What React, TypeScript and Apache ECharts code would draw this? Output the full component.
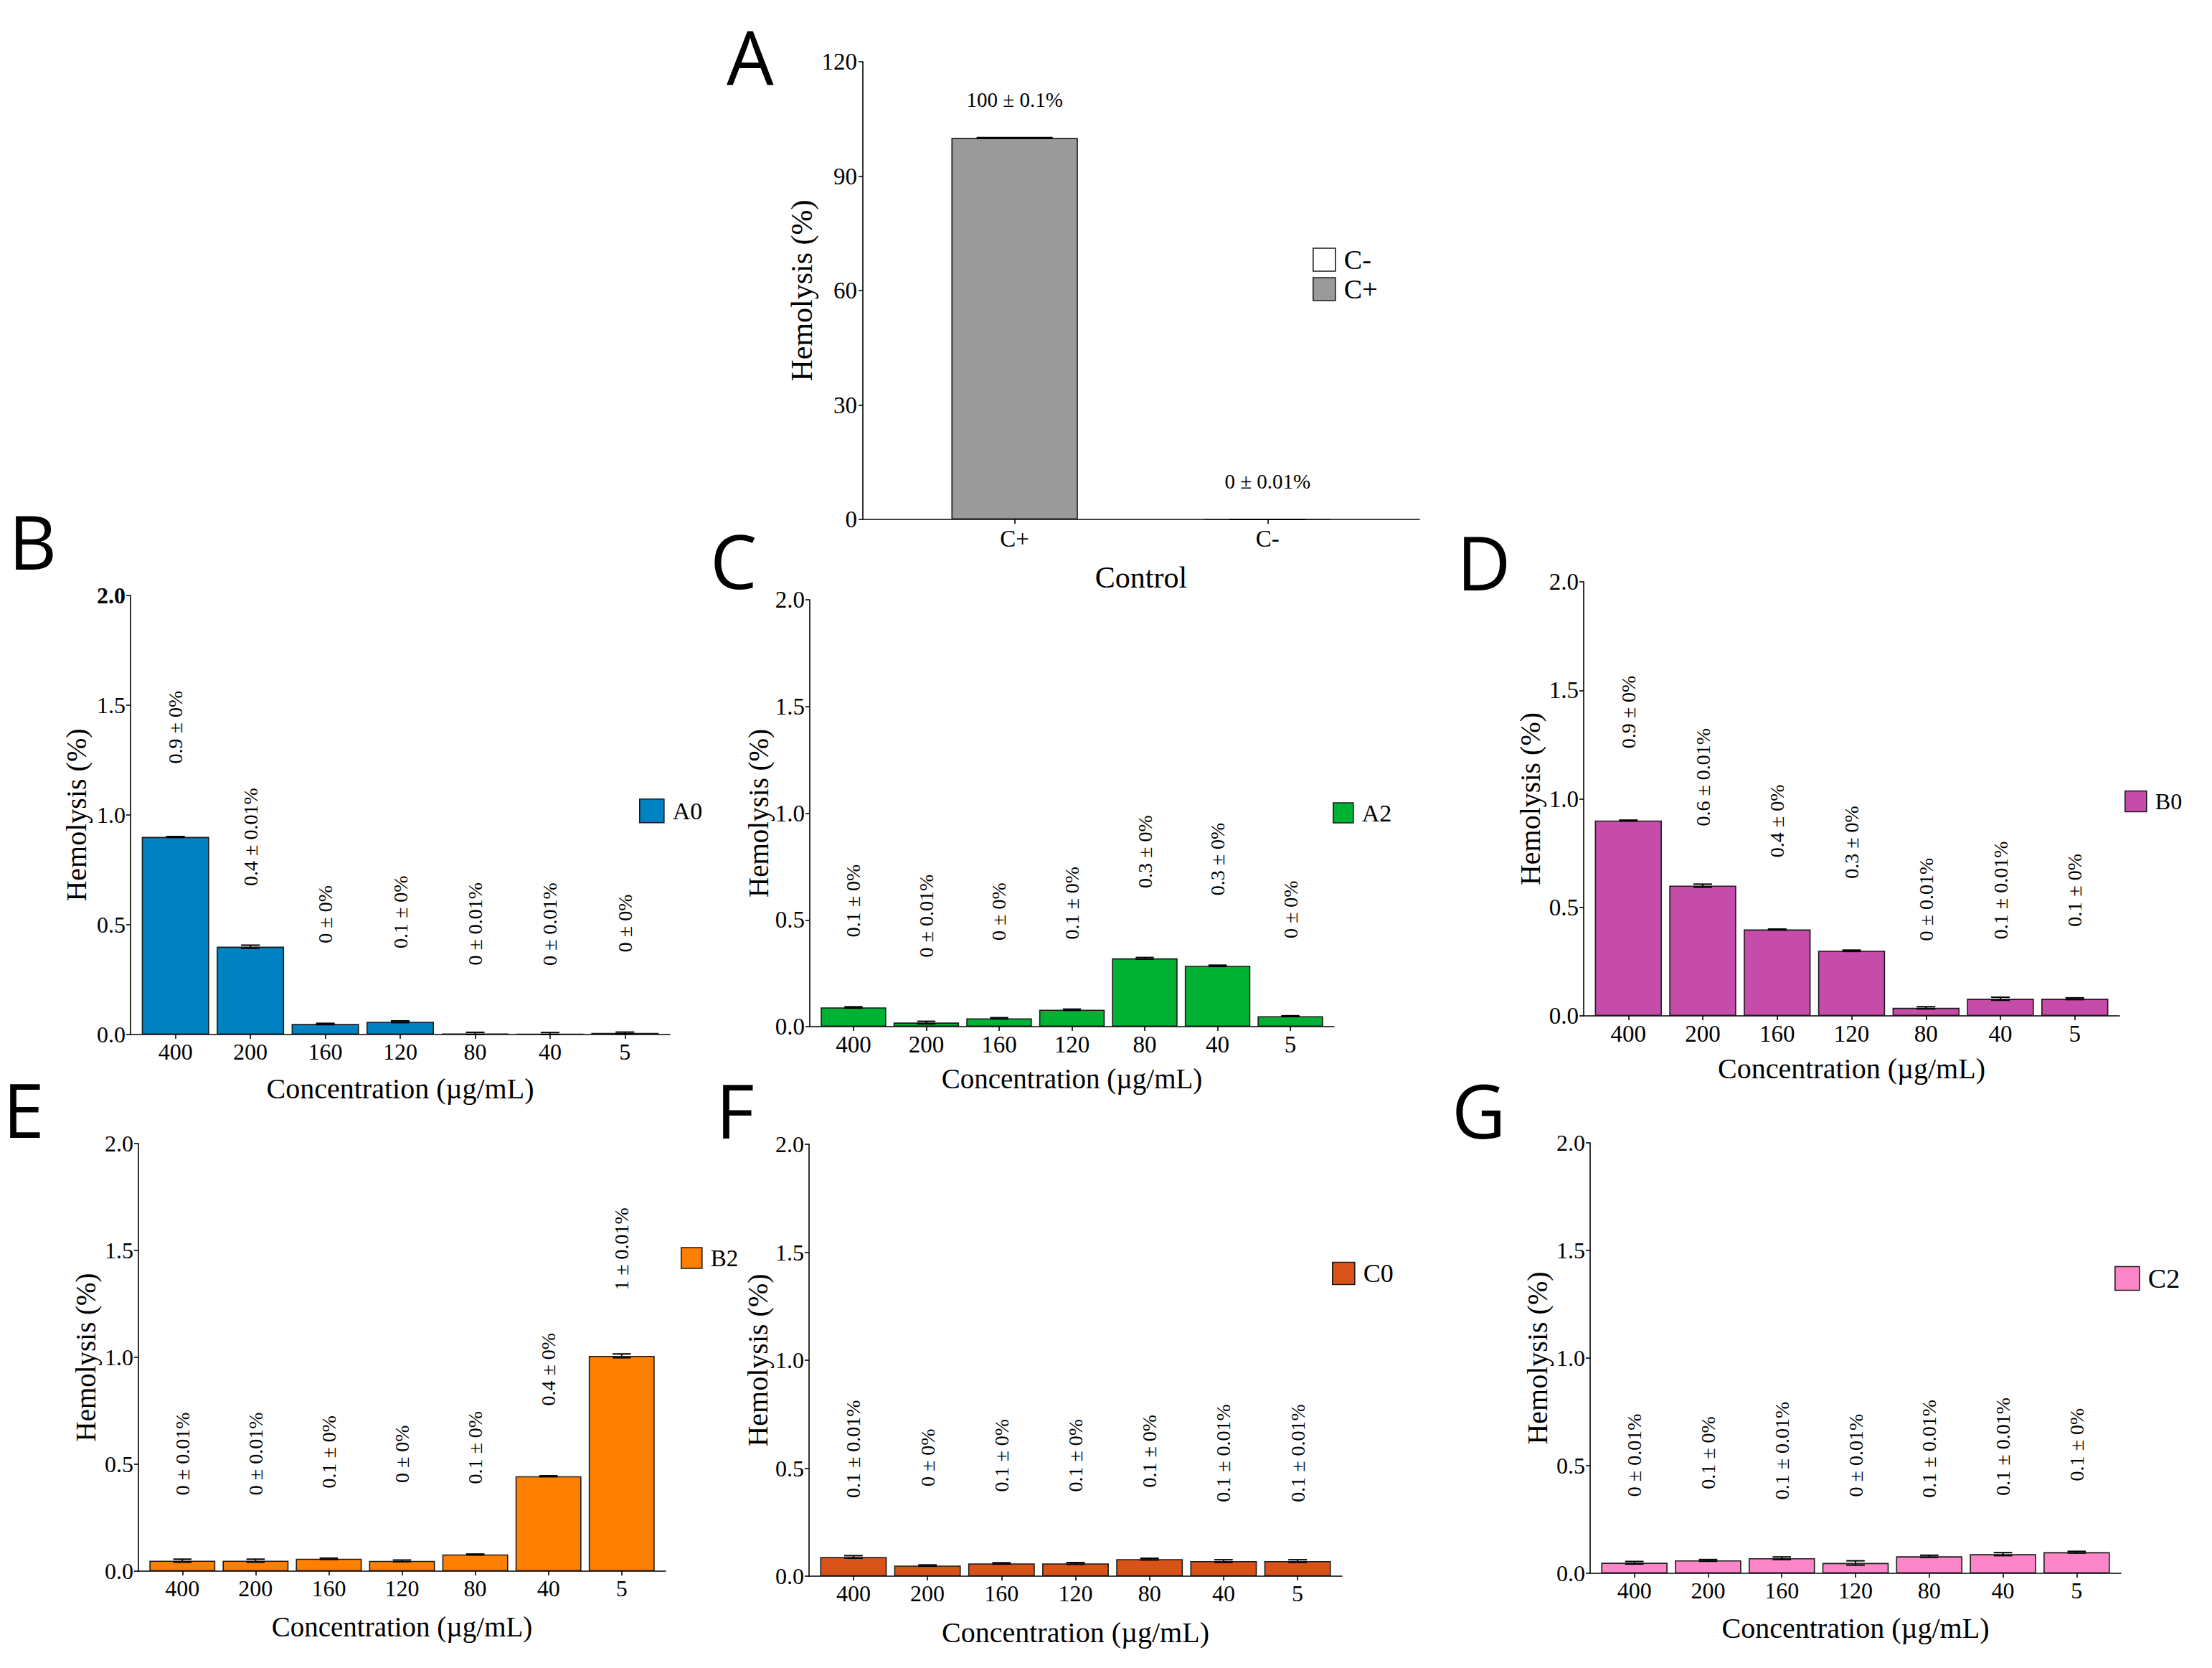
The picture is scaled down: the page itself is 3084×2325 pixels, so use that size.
import React, { useEffect, useRef } from 'react';
import * as echarts from 'echarts';

// ---------- data ----------
const concentrations = ['400', '200', '160', '120', '80', '40', '5'];

const controlGroups = ['C+', 'C-'];
const controlMeans = [100, 0];
const controlSds = [0.1, 0.01];
const controlLabels = ['100 ± 0.1%', '0 ± 0.01%'];

const a0Means = [0.9, 0.4, 0.048, 0.058, 0.004, 0.003, 0.007];
const a0Sds = [0.002, 0.007, 0.003, 0.004, 0.006, 0.006, 0.004];
const a0Labels = ['0.9 ± 0%', '0.4 ± 0.01%', '0 ± 0%', '0.1 ± 0%', '0 ± 0.01%', '0 ± 0.01%', '0 ± 0%'];

const a2Means = [0.09, 0.019, 0.039, 0.079, 0.32, 0.285, 0.049];
const a2Sds = [0.003, 0.006, 0.003, 0.003, 0.004, 0.003, 0.002];
const a2Labels = ['0.1 ± 0%', '0 ± 0.01%', '0 ± 0%', '0.1 ± 0%', '0.3 ± 0%', '0.3 ± 0%', '0 ± 0%'];

const b0Means = [0.9, 0.6, 0.398, 0.3, 0.037, 0.079, 0.079];
const b0Sds = [0.002, 0.007, 0.002, 0.003, 0.005, 0.007, 0.004];
const b0Labels = ['0.9 ± 0%', '0.6 ± 0.01%', '0.4 ± 0%', '0.3 ± 0%', '0 ± 0.01%', '0.1 ± 0.01%', '0.1 ± 0%'];

const b2Means = [0.049, 0.049, 0.058, 0.048, 0.078, 0.444, 1.007];
const b2Sds = [0.007, 0.007, 0.003, 0.004, 0.002, 0.002, 0.009];
const b2Labels = ['0 ± 0.01%', '0 ± 0.01%', '0.1 ± 0%', '0 ± 0%', '0.1 ± 0%', '0.4 ± 0%', '1 ± 0.01%'];

const c0Means = [0.089, 0.049, 0.059, 0.059, 0.079, 0.07, 0.07];
const c0Sds = [0.006, 0.003, 0.003, 0.004, 0.004, 0.006, 0.006];
const c0Labels = ['0.1 ± 0.01%', '0 ± 0%', '0.1 ± 0%', '0.1 ± 0%', '0.1 ± 0%', '0.1 ± 0.01%', '0.1 ± 0.01%'];

const c2Means = [0.049, 0.06, 0.07, 0.048, 0.079, 0.089, 0.098];
const c2Sds = [0.006, 0.004, 0.006, 0.01, 0.005, 0.007, 0.004];
const c2Labels = ['0 ± 0.01%', '0.1 ± 0%', '0.1 ± 0.01%', '0 ± 0.01%', '0.1 ± 0.01%', '0.1 ± 0.01%', '0.1 ± 0%'];

const yTicksSmall = [0, 0.5, 1, 1.5, 2];
const yTicksControl = [0, 30, 60, 90, 120];

// ---------- layout / style ----------
const SERIF = '"Liberation Serif", "Times New Roman", serif';
const SANS = '"Open Sans", "Noto Sans", sans-serif';
const LETTER_FS = 104;

const panels = [
  { letter: 'B', name: 'A0', color: '#0081C2', means: a0Means, sds: a0Sds, labels: a0Labels,
    grid: { left: 182, top: 830, width: 752, height: 612 }, yTitleX: 106, xTitleY: 1517,
    legend: { left: 891, top: 1113, w: 34, h: 33, fs: 34 }, tick: 32, title: 40, lab: 28, boldTop: true,
    letterSpec: { x: 12, y: 753 } },
  { letter: 'C', name: 'A2', color: '#00B233', means: a2Means, sds: a2Sds, labels: a2Labels,
    grid: { left: 1129, top: 836, width: 731, height: 595 }, yTitleX: 1057, xTitleY: 1503,
    legend: { left: 1858, top: 1116, w: 28, h: 28, fs: 34 }, tick: 33, title: 39, lab: 28,
    letterSpec: { x: 990, y: 780 } },
  { letter: 'D', name: 'B0', color: '#C64CAA', means: b0Means, sds: b0Sds, labels: b0Labels,
    grid: { left: 2208, top: 811, width: 747, height: 605 }, yTitleX: 2133, xTitleY: 1489,
    legend: { left: 2962, top: 1101, w: 30, h: 29, fs: 32 }, tick: 33, title: 40, lab: 28,
    letterSpec: { x: 2031, y: 782 } },
  { letter: 'E', name: 'B2', color: '#FF8000', means: b2Means, sds: b2Sds, labels: b2Labels,
    grid: { left: 193, top: 1594, width: 735, height: 596 }, yTitleX: 119, xTitleY: 2267,
    legend: { left: 949, top: 1737, w: 29, h: 29, fs: 33 }, tick: 32, title: 39, lab: 28,
    letterSpec: { x: 4, y: 1545 } },
  { letter: 'F', name: 'C0', color: '#D95319', means: c0Means, sds: c0Sds, labels: c0Labels,
    grid: { left: 1128, top: 1595, width: 743, height: 602 }, yTitleX: 1056, xTitleY: 2275,
    legend: { left: 1857, top: 1757, w: 31, h: 31, fs: 36 }, tick: 32, title: 40, lab: 28,
    letterSpec: { x: 998, y: 1546 } },
  { letter: 'G', name: 'C2', color: '#FC86C7', means: c2Means, sds: c2Sds, labels: c2Labels,
    grid: { left: 2217, top: 1593, width: 740, height: 600 }, yTitleX: 2143, xTitleY: 2269,
    legend: { left: 2948, top: 1763, w: 34, h: 33, fs: 38 }, tick: 32, title: 40, lab: 28,
    letterSpec: { x: 2024, y: 1546 } },
];

const controlPanel = {
  grid: { left: 1203, top: 86, width: 776, height: 638 },
  yTitleX: 1118, xTitleY: 805, tick: 33, title: 42, lab: 29,
  legend: { left: 1830, top: 343, w: 31, h: 32, fs: 38 },
  letterSpec: { x: 1013, y: 78 },
};

const BORDER = '#1a1a1a';

function makeErrorRenderer(capWidth: number) {
  return (params: any, api: any) => {
    const x = api.value(0);
    const m = api.value(1);
    const s = api.value(2);
    const top = api.coord([x, m + s]);
    const bot = api.coord([x, Math.max(0, m - s)]);
    const half = api.size([capWidth / 2, 0])[0];
    const st = { stroke: '#000', lineWidth: 2 };
    return {
      type: 'group',
      children: [
        { type: 'line', shape: { x1: top[0], y1: top[1], x2: bot[0], y2: bot[1] }, style: st },
        { type: 'line', shape: { x1: top[0] - half, y1: top[1], x2: top[0] + half, y2: top[1] }, style: st },
        { type: 'line', shape: { x1: bot[0] - half, y1: bot[1], x2: bot[0] + half, y2: bot[1] }, style: st },
      ],
    };
  };
}

function makeLabelRenderer(labels: string[], fs: number, rotate: boolean) {
  return (params: any, api: any) => {
    const pt = api.coord([api.value(0), api.value(1)]);
    return {
      type: 'text',
      x: pt[0],
      y: pt[1],
      rotation: rotate ? Math.PI / 2 : 0,
      style: {
        text: labels[params.dataIndex],
        fill: '#000',
        fontSize: fs,
        fontFamily: SERIF,
        align: 'center',
        verticalAlign: 'middle',
      },
    };
  };
}

function letterGraphic(text: string, x: number, y: number) {
  return {
    type: 'text', x, y,
    style: {
      text, fontSize: LETTER_FS, lineHeight: LETTER_FS, fontFamily: SANS, fill: '#000',
      align: 'left', verticalAlign: 'middle',
    },
  };
}

function buildOption() {
  const grids: any[] = [];
  const xAxes: any[] = [];
  const yAxes: any[] = [];
  const series: any[] = [];
  const legends: any[] = [];
  const graphics: any[] = [];

  const axisLineStyle = { color: '#000', width: 1.6 };

  // ---- panel A (control) ----
  const cp = controlPanel;
  grids.push({ ...cp.grid, containLabel: false });
  const catPos = controlGroups.map((_, i) => i + 1);
  xAxes.push({
    type: 'value', gridIndex: 0, min: 0.4, max: controlGroups.length + 0.6,
    splitLine: { show: false },
    axisLine: { show: true, lineStyle: axisLineStyle, onZero: false },
    axisTick: { show: true, length: 6, lineStyle: axisLineStyle, customValues: catPos },
    axisLabel: {
      customValues: catPos, margin: 10, fontSize: cp.tick, fontFamily: SERIF, color: '#000',
      formatter: (v: number) => controlGroups[Math.round(v) - 1] ?? '',
    },
  });
  yAxes.push({
    type: 'value', gridIndex: 0, min: 0, max: 120, interval: 30,
    splitLine: { show: false },
    axisLine: { show: true, lineStyle: axisLineStyle },
    axisTick: { show: true, length: 6, lineStyle: axisLineStyle },
    axisLabel: { margin: 8, fontSize: cp.tick, fontFamily: SERIF, color: '#000',
      formatter: (v: number) => (yTicksControl.includes(v) ? String(v) : '') },
  });
  const unitA = cp.grid.width / (controlGroups.length + 0.2);
  const controlColors = ['#9a9a9a', '#ffffff'];
  controlGroups.forEach((g, i) => {
    series.push({
      type: 'bar', name: g, xAxisIndex: 0, yAxisIndex: 0,
      data: [[i + 1, controlMeans[i]]],
      barWidth: unitA * 0.5, barGap: '-100%',
      itemStyle: { color: controlColors[i], borderColor: BORDER, borderWidth: 1.6 },
      emphasis: { disabled: true }, silent: true,
    });
  });
  series.push({
    type: 'custom', name: 'control-err', xAxisIndex: 0, yAxisIndex: 0, z: 5,
    data: controlMeans.map((m, i) => [i + 1, m, controlSds[i]]),
    renderItem: makeErrorRenderer(0.3), silent: true,
  });
  series.push({
    type: 'custom', name: 'control-lab', xAxisIndex: 0, yAxisIndex: 0, z: 5,
    data: controlMeans.map((m, i) => [i + 1, m + 10]),
    renderItem: makeLabelRenderer(controlLabels, cp.lab, false), silent: true,
  });
  legends.push({
    data: ['C-', 'C+'], orient: 'vertical', left: cp.legend.left, top: cp.legend.top,
    padding: 0, itemGap: 3, itemWidth: cp.legend.w, itemHeight: cp.legend.h, icon: 'rect',
    selectedMode: false,
    itemStyle: { borderColor: BORDER, borderWidth: 1.6 },
    textStyle: { fontSize: cp.legend.fs, fontFamily: SERIF, color: '#000', padding: [0, 0, 0, 7] },
  });
  graphics.push({
    type: 'text', x: cp.yTitleX, y: cp.grid.top + cp.grid.height / 2, rotation: Math.PI / 2,
    style: { text: 'Hemolysis (%)', fontSize: cp.title, fontFamily: SERIF, fill: '#000', align: 'center', verticalAlign: 'middle' },
  });
  graphics.push({
    type: 'text', x: cp.grid.left + cp.grid.width / 2, y: cp.xTitleY,
    style: { text: 'Control', fontSize: cp.title, fontFamily: SERIF, fill: '#000', align: 'center', verticalAlign: 'middle' },
  });
  graphics.push(letterGraphic('A', cp.letterSpec.x, cp.letterSpec.y));

  // ---- panels B..G ----
  const catPositions = concentrations.map((_, i) => i + 1);
  panels.forEach((p, idx) => {
    const k = idx + 1;
    grids.push({ ...p.grid, containLabel: false });
    xAxes.push({
      type: 'value', gridIndex: k, min: 0.4, max: concentrations.length + 0.6,
      splitLine: { show: false },
      axisLine: { show: true, lineStyle: axisLineStyle, onZero: false },
      axisTick: { show: true, length: 6, lineStyle: axisLineStyle, customValues: catPositions },
      axisLabel: {
        customValues: catPositions, margin: 8, fontSize: p.tick, fontFamily: SERIF, color: '#000',
        formatter: (v: number) => concentrations[Math.round(v) - 1] ?? '',
      },
    });
    yAxes.push({
      type: 'value', gridIndex: k, min: 0, max: 2, interval: 0.5,
      splitLine: { show: false },
      axisLine: { show: true, lineStyle: axisLineStyle },
      axisTick: { show: true, length: 6, lineStyle: axisLineStyle },
      axisLabel: {
        margin: 7, fontSize: p.tick, fontFamily: SERIF, color: '#000',
        formatter: (v: number) => {
          if (!yTicksSmall.includes(v)) return '';
          const t = v.toFixed(1);
          return p.boldTop && v === 2 ? '{b|' + t + '}' : t;
        },
        rich: { b: { fontWeight: 'bold', fontSize: p.tick, fontFamily: SERIF, color: '#000' } },
      },
    });
    const unit = p.grid.width / (concentrations.length + 0.2);
    series.push({
      type: 'bar', name: p.name, xAxisIndex: k, yAxisIndex: k,
      data: p.means.map((m, i) => [i + 1, m]),
      barWidth: unit * 0.9,
      itemStyle: { color: p.color, borderColor: BORDER, borderWidth: 1.6 },
      emphasis: { disabled: true }, silent: true,
    });
    series.push({
      type: 'custom', name: p.name + '-err', xAxisIndex: k, yAxisIndex: k, z: 5,
      data: p.means.map((m, i) => [i + 1, m, p.sds[i]]),
      renderItem: makeErrorRenderer(0.25), silent: true,
    });
    series.push({
      type: 'custom', name: p.name + '-lab', xAxisIndex: k, yAxisIndex: k, z: 5,
      data: p.means.map((m, i) => [i + 1, m + 0.5]),
      renderItem: makeLabelRenderer(p.labels, p.lab, true), silent: true,
    });
    legends.push({
      data: [p.name], orient: 'vertical', left: p.legend.left, top: p.legend.top,
      padding: 0, itemWidth: p.legend.w, itemHeight: p.legend.h, icon: 'rect',
      selectedMode: false,
      itemStyle: { borderColor: BORDER, borderWidth: 1.6 },
      textStyle: { fontSize: p.legend.fs, fontFamily: SERIF, color: '#000', padding: [0, 0, 0, 7] },
    });
    graphics.push({
      type: 'text', x: p.yTitleX, y: p.grid.top + p.grid.height / 2, rotation: Math.PI / 2,
      style: { text: 'Hemolysis (%)', fontSize: p.title, fontFamily: SERIF, fill: '#000', align: 'center', verticalAlign: 'middle' },
    });
    graphics.push({
      type: 'text', x: p.grid.left + p.grid.width / 2, y: p.xTitleY,
      style: { text: 'Concentration (µg/mL)', fontSize: p.title, fontFamily: SERIF, fill: '#000', align: 'center', verticalAlign: 'middle' },
    });
    graphics.push(letterGraphic(p.letter, p.letterSpec.x, p.letterSpec.y));
  });

  return {
    animation: false,
    backgroundColor: '#ffffff',
    textStyle: { fontFamily: SERIF },
    grid: grids,
    xAxis: xAxes,
    yAxis: yAxes,
    legend: legends,
    series,
    graphic: graphics,
  };
}

export default function App() {
  const ref = useRef<HTMLDivElement>(null);
  useEffect(() => {
    if (!ref.current) return;
    const chart = echarts.init(ref.current, undefined, { renderer: 'svg' });
    chart.setOption(buildOption() as any);
    return () => chart.dispose();
  }, []);
  return (
    <div
      ref={ref}
      style={{ position: 'absolute', left: 0, top: 0, width: 3084, height: 2325, background: '#fff' }}
    />
  );
}
